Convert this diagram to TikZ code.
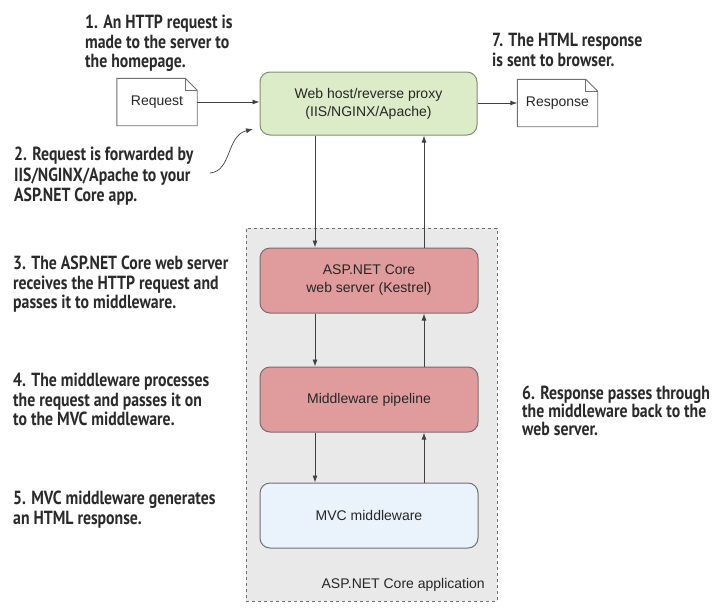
\documentclass[tikz,border=0pt]{standalone}
\usepackage{fontspec}
\setmainfont{Liberation Sans}
\newfontfamily\annotfont[FakeStretch=0.83]{PT Sans}
\usetikzlibrary{arrows.meta}
\definecolor{hostfill}{HTML}{DCEBC8}
\definecolor{hostdraw}{HTML}{7F8F72}
\definecolor{redfill}{HTML}{E09C9C}
\definecolor{reddraw}{HTML}{7A6C6C}
\definecolor{mvcfill}{HTML}{EAF2FB}
\definecolor{boxdraw}{HTML}{707070}
\definecolor{contfill}{HTML}{E9E9E9}
\definecolor{arrowcol}{HTML}{404040}
\definecolor{annotcol}{HTML}{2A2A2A}
\tikzset{
  boxfont/.style={font=\fontsize{14}{18}\selectfont, text=black!85},
  procbox/.style={rectangle, rounded corners=10pt, line width=1pt, minimum width=218pt,
    minimum height=65pt, align=center, boxfont},
  docbox/.style={rectangle, minimum width=80pt, minimum height=47pt, inner sep=0pt},
  docline/.style={draw=boxdraw, line width=0.9pt, fill=white},
  flow/.style={draw=arrowcol, line width=0.9pt, -{Latex[length=7pt,width=5pt]}},
  annot/.style={anchor=north west, align=left, inner sep=0pt, text=annotcol,
    font=\annotfont\bfseries\fontsize{19}{19.5}\selectfont},
}
\begin{document}
\begin{tikzpicture}[x=1pt,y=-1pt]
\useasboundingbox (0,0) rectangle (725,614);
% container
\node[rectangle, draw=boxdraw, dashed, line width=0.9pt, fill=contfill,
  minimum width=251pt, minimum height=373pt, inner sep=0pt] (cont) at (371.5,414.5) {};
\node[anchor=base east, boxfont, inner sep=0pt]
  (contlabel) at (485,588) {ASP.NET Core application};
% boxes
\node[procbox, draw=hostdraw, fill=hostfill, minimum width=217pt, minimum height=63pt]
  (host) at (368.5,103.5) {Web host/reverse proxy\\(IIS/NGINX/Apache)};
\node[procbox, draw=reddraw, fill=redfill] (kestrel) at (369,280.5) {ASP.NET Core\\web server (Kestrel)};
\node[procbox, draw=reddraw, fill=redfill] (pipe) at (369,399.5) {Middleware pipeline};
\node[procbox, draw=boxdraw, fill=mvcfill] (mvc) at (369,515.5) {MVC middleware};
% documents
\node[docbox] (req) at (157,102) {};
\draw[docline] (req.south west) -- (req.north west) -- ([xshift=-12pt]req.north east)
  -- ([yshift=-12pt]req.north east) -- (req.south east) -- cycle;
\draw[docline, fill=none] ([xshift=-12pt]req.north east) -- ([xshift=-12pt,yshift=-12pt]req.north east) -- ([yshift=-12pt]req.north east);
\node[boxfont] (reqtext) at (req.center) {Request};
\node[docbox] (resp) at (557.5,103) {};
\draw[docline] (resp.south west) -- (resp.north west) -- ([xshift=-12pt]resp.north east)
  -- ([yshift=-12pt]resp.north east) -- (resp.south east) -- cycle;
\draw[docline, fill=none] ([xshift=-12pt]resp.north east) -- ([xshift=-12pt,yshift=-12pt]resp.north east) -- ([yshift=-12pt]resp.north east);
\node[boxfont] (resptext) at (resp.center) {Response};
% arrows
\draw[flow] (req.east) -- (req.east -| host.west);
\draw[flow] (host.east |- resp.west) -- (resp.west);
\draw[flow] ([xshift=-53.5pt]host.south) -- ([xshift=-54pt]kestrel.north);
\draw[flow] ([xshift=-54pt]kestrel.south) -- ([xshift=-54pt]pipe.north);
\draw[flow] ([xshift=-54pt]pipe.south) -- ([xshift=-54pt]mvc.north);
\draw[flow] ([xshift=55pt]mvc.north) -- ([xshift=55pt]pipe.south);
\draw[flow] ([xshift=55pt]pipe.north) -- ([xshift=55pt]kestrel.south);
\draw[flow] ([xshift=55pt]kestrel.north) -- ([xshift=55.5pt]host.south);
% curved arrow for step 2
\coordinate (c2start) at (210,173);
\coordinate (c2end) at (253,129);
\draw[flow, line width=0.7pt] (c2start) .. controls (232,171) and (226,136) .. (c2end);
% annotations
\node[annot] (a1) at (85,15) {1. An HTTP request is\\made to the server to\\the homepage.};
\node[annot, font=\annotfont\bfseries\fontsize{19}{20.5}\selectfont] (a2) at (14,147) {2. Request is forwarded by\\IIS/NGINX/Apache to your\\ASP.NET Core app.};
\node[annot] (a3) at (13,256) {3. The ASP.NET Core web server\\receives the HTTP request and\\passes it to middleware.};
\node[annot] (a4) at (13,373) {4. The middleware processes\\the request and passes it on\\to the MVC middleware.};
\node[annot] (a5) at (13,491) {5. MVC middleware generates\\an HTML response.};
\node[annot, font=\annotfont\bfseries\fontsize{19}{18}\selectfont] (a6) at (522,386) {6. Response passes through\\the middleware back to the\\web server.};
\node[annot] (a7) at (492,33) {7. The HTML response\\is sent to browser.};
\end{tikzpicture}
\end{document}
